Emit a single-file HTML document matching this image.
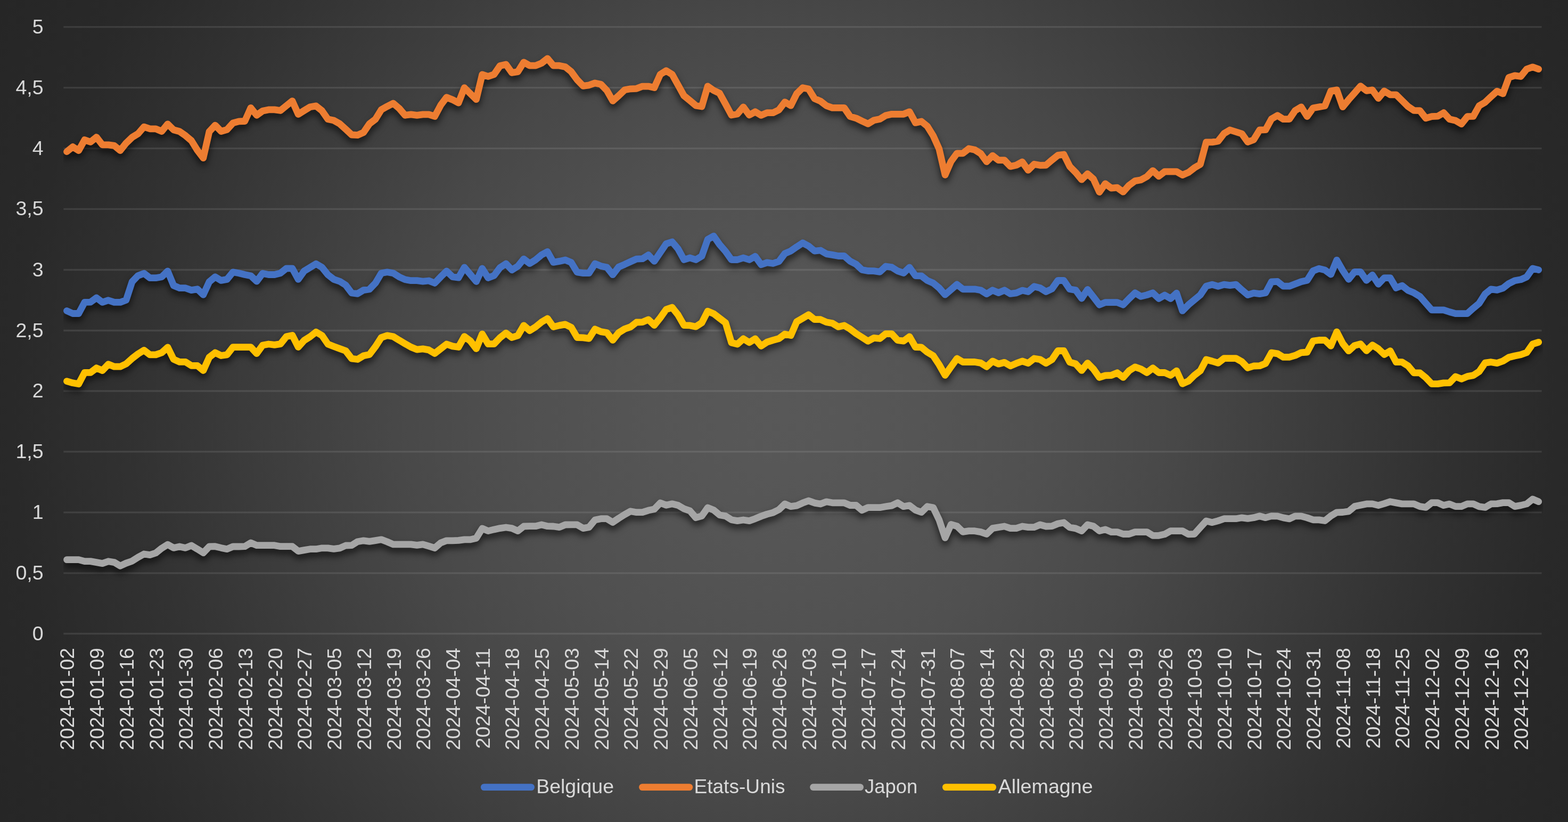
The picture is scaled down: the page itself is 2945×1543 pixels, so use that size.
<!DOCTYPE html>
<html lang="fr"><head><meta charset="utf-8"><title>Taux 10 ans 2024</title>
<style>
html,body{margin:0;padding:0;background:#262626;}
body{width:2945px;height:1543px;overflow:hidden;}
#chart{position:relative;width:2945px;height:1543px;background:radial-gradient(circle 1662px at 50% 50%,rgb(88,88,88) 0px,rgb(87,87,87) 120px,rgb(85,85,85) 252px,rgb(80,80,80) 492px,rgb(72,72,72) 732px,rgb(61,61,61) 972px,rgb(50,50,50) 1212px,rgb(41,41,41) 1452px,rgb(38,38,38) 1662px);}
svg{position:absolute;left:0;top:0;display:block;}
text{font-family:"Liberation Sans",sans-serif;fill:#D9D9D9;}
.yl{font-size:37.5px;text-anchor:end;}
.xl{font-size:37.6px;text-anchor:end;}
.lg{font-size:36px;}
.grid line{stroke:#F2F2F2;stroke-opacity:.10;stroke-width:3.3;}
.ser polyline{fill:none;stroke-width:12.8;stroke-linecap:round;stroke-linejoin:round;}
.leg line{stroke-width:12.9;stroke-linecap:round;}
</style></head><body>
<div id="chart">
<svg width="2945" height="1543" viewBox="0 0 2945 1543">
<defs>
<filter id="sh" filterUnits="userSpaceOnUse" x="0" y="0" width="2945" height="1543" color-interpolation-filters="sRGB">
<feGaussianBlur in="SourceAlpha" stdDeviation="6.5"/>
<feOffset dx="0" dy="8" result="b"/>
<feFlood flood-color="#000" flood-opacity="0.63"/>
<feComposite in2="b" operator="in"/>
</filter>
<clipPath id="cp"><rect x="119.1" y="0" width="2778.8" height="1209.4"/></clipPath>
</defs>
<g class="grid">
<line x1="119.3" x2="2895.6" y1="1189.5" y2="1189.5"/>
<line x1="119.3" x2="2895.6" y1="1075.9" y2="1075.9"/>
<line x1="119.3" x2="2895.6" y1="961.9" y2="961.9"/>
<line x1="119.3" x2="2895.6" y1="847.9" y2="847.9"/>
<line x1="119.3" x2="2895.6" y1="734.0" y2="734.0"/>
<line x1="119.3" x2="2895.6" y1="620.5" y2="620.5"/>
<line x1="119.3" x2="2895.6" y1="506.5" y2="506.5"/>
<line x1="119.3" x2="2895.6" y1="392.3" y2="392.3"/>
<line x1="119.3" x2="2895.6" y1="278.6" y2="278.6"/>
<line x1="119.3" x2="2895.6" y1="164.7" y2="164.7"/>
<line x1="119.3" x2="2895.6" y1="50.6" y2="50.6"/>
</g>
<g class="ylabels">
<text class="yl" x="81.6" y="1201.5">0</text>
<text class="yl" x="81.6" y="1087.9">0,5</text>
<text class="yl" x="81.6" y="973.9">1</text>
<text class="yl" x="81.6" y="859.9">1,5</text>
<text class="yl" x="81.6" y="746.0">2</text>
<text class="yl" x="81.6" y="632.5">2,5</text>
<text class="yl" x="81.6" y="518.5">3</text>
<text class="yl" x="81.6" y="404.3">3,5</text>
<text class="yl" x="81.6" y="290.6">4</text>
<text class="yl" x="81.6" y="176.7">4,5</text>
<text class="yl" x="81.6" y="62.6">5</text>
</g>
<g class="xlabels">
<text class="xl" transform="translate(139.4,1216.0) rotate(-90)">2024-01-02</text>
<text class="xl" transform="translate(195.2,1216.0) rotate(-90)">2024-01-09</text>
<text class="xl" transform="translate(250.9,1216.0) rotate(-90)">2024-01-16</text>
<text class="xl" transform="translate(306.6,1216.0) rotate(-90)">2024-01-23</text>
<text class="xl" transform="translate(362.4,1216.0) rotate(-90)">2024-01-30</text>
<text class="xl" transform="translate(418.1,1216.0) rotate(-90)">2024-02-06</text>
<text class="xl" transform="translate(473.8,1216.0) rotate(-90)">2024-02-13</text>
<text class="xl" transform="translate(529.6,1216.0) rotate(-90)">2024-02-20</text>
<text class="xl" transform="translate(585.3,1216.0) rotate(-90)">2024-02-27</text>
<text class="xl" transform="translate(641.0,1216.0) rotate(-90)">2024-03-05</text>
<text class="xl" transform="translate(696.8,1216.0) rotate(-90)">2024-03-12</text>
<text class="xl" transform="translate(752.5,1216.0) rotate(-90)">2024-03-19</text>
<text class="xl" transform="translate(808.2,1216.0) rotate(-90)">2024-03-26</text>
<text class="xl" transform="translate(864.0,1216.0) rotate(-90)">2024-04-04</text>
<text class="xl" transform="translate(919.7,1216.0) rotate(-90)">2024-04-11</text>
<text class="xl" transform="translate(975.4,1216.0) rotate(-90)">2024-04-18</text>
<text class="xl" transform="translate(1031.1,1216.0) rotate(-90)">2024-04-25</text>
<text class="xl" transform="translate(1086.9,1216.0) rotate(-90)">2024-05-03</text>
<text class="xl" transform="translate(1142.6,1216.0) rotate(-90)">2024-05-14</text>
<text class="xl" transform="translate(1198.3,1216.0) rotate(-90)">2024-05-22</text>
<text class="xl" transform="translate(1254.1,1216.0) rotate(-90)">2024-05-29</text>
<text class="xl" transform="translate(1309.8,1216.0) rotate(-90)">2024-06-05</text>
<text class="xl" transform="translate(1365.5,1216.0) rotate(-90)">2024-06-12</text>
<text class="xl" transform="translate(1421.3,1216.0) rotate(-90)">2024-06-19</text>
<text class="xl" transform="translate(1477.0,1216.0) rotate(-90)">2024-06-26</text>
<text class="xl" transform="translate(1532.7,1216.0) rotate(-90)">2024-07-03</text>
<text class="xl" transform="translate(1588.5,1216.0) rotate(-90)">2024-07-10</text>
<text class="xl" transform="translate(1644.2,1216.0) rotate(-90)">2024-07-17</text>
<text class="xl" transform="translate(1699.9,1216.0) rotate(-90)">2024-07-24</text>
<text class="xl" transform="translate(1755.6,1216.0) rotate(-90)">2024-07-31</text>
<text class="xl" transform="translate(1811.4,1216.0) rotate(-90)">2024-08-07</text>
<text class="xl" transform="translate(1867.1,1216.0) rotate(-90)">2024-08-14</text>
<text class="xl" transform="translate(1922.8,1216.0) rotate(-90)">2024-08-22</text>
<text class="xl" transform="translate(1978.6,1216.0) rotate(-90)">2024-08-29</text>
<text class="xl" transform="translate(2034.3,1216.0) rotate(-90)">2024-09-05</text>
<text class="xl" transform="translate(2090.0,1216.0) rotate(-90)">2024-09-12</text>
<text class="xl" transform="translate(2145.8,1216.0) rotate(-90)">2024-09-19</text>
<text class="xl" transform="translate(2201.5,1216.0) rotate(-90)">2024-09-26</text>
<text class="xl" transform="translate(2257.2,1216.0) rotate(-90)">2024-10-03</text>
<text class="xl" transform="translate(2313.0,1216.0) rotate(-90)">2024-10-10</text>
<text class="xl" transform="translate(2368.7,1216.0) rotate(-90)">2024-10-17</text>
<text class="xl" transform="translate(2424.4,1216.0) rotate(-90)">2024-10-24</text>
<text class="xl" transform="translate(2480.2,1216.0) rotate(-90)">2024-10-31</text>
<text class="xl" transform="translate(2535.9,1216.0) rotate(-90)">2024-11-08</text>
<text class="xl" transform="translate(2591.6,1216.0) rotate(-90)">2024-11-18</text>
<text class="xl" transform="translate(2647.3,1216.0) rotate(-90)">2024-11-25</text>
<text class="xl" transform="translate(2703.1,1216.0) rotate(-90)">2024-12-02</text>
<text class="xl" transform="translate(2758.8,1216.0) rotate(-90)">2024-12-09</text>
<text class="xl" transform="translate(2814.5,1216.0) rotate(-90)">2024-12-16</text>
<text class="xl" transform="translate(2870.3,1216.0) rotate(-90)">2024-12-23</text>
</g>
<g class="ser">
<g clip-path="url(#cp)"><polyline filter="url(#sh)" stroke="#000" points="125.5,583.5 136.6,588.5 147.7,588.5 158.9,567.4 170.0,567.1 181.2,559.0 192.3,567.4 203.5,563.7 214.6,567.4 225.8,567.4 236.9,563.2 248.1,529.0 259.2,517.4 270.4,513.2 281.5,521.7 292.6,521.7 303.8,519.7 314.9,508.9 326.1,536.0 337.2,540.7 348.4,540.7 359.5,544.6 370.7,542.7 381.8,553.4 393.0,529.0 404.1,519.8 415.3,526.4 426.4,524.4 437.5,510.8 448.7,512.7 459.8,515.5 471.0,517.7 482.1,528.2 493.3,513.2 504.4,515.5 515.6,515.5 526.7,512.7 537.9,503.8 549.0,503.8 560.2,524.4 571.3,508.8 582.4,502.1 593.6,495.3 604.7,501.8 615.9,515.8 627.0,524.4 638.2,528.2 649.3,535.2 660.5,550.0 671.6,551.3 682.8,544.6 693.9,543.0 705.1,531.4 716.2,512.7 727.3,510.8 738.5,512.7 749.6,519.7 760.8,524.8 771.9,526.7 783.1,526.7 794.2,528.2 805.4,527.0 816.5,531.4 827.7,519.7 838.8,508.9 850.0,519.7 861.1,521.2 872.2,501.9 883.4,515.2 894.5,528.5 905.7,504.0 916.8,521.5 928.0,517.3 939.1,502.3 950.3,495.0 961.4,506.7 972.6,499.7 983.7,486.1 994.9,494.6 1006.0,487.7 1017.1,478.4 1028.3,472.5 1039.4,492.4 1050.6,490.4 1061.7,488.0 1072.9,492.7 1084.0,511.0 1095.2,512.6 1106.3,512.6 1117.5,495.0 1128.6,499.4 1139.8,501.7 1150.9,515.7 1162.0,501.2 1173.2,496.3 1184.3,491.1 1195.5,486.1 1206.6,485.7 1217.8,478.7 1228.9,490.4 1240.1,474.0 1251.2,457.7 1262.4,454.0 1273.5,467.2 1284.7,487.5 1295.8,484.0 1306.9,487.5 1318.1,480.8 1329.2,449.3 1340.4,443.1 1351.5,459.0 1362.7,471.9 1373.8,487.5 1385.0,487.5 1396.1,484.0 1407.3,487.5 1418.4,481.2 1429.6,496.8 1440.7,492.9 1451.8,494.5 1463.0,490.6 1474.1,475.8 1485.3,471.1 1496.4,463.3 1507.6,456.0 1518.7,461.8 1529.9,471.1 1541.0,470.0 1552.2,476.6 1563.3,478.4 1574.5,480.5 1585.6,480.5 1596.7,490.3 1607.9,496.0 1619.0,506.4 1630.2,508.5 1641.3,508.6 1652.5,510.4 1663.6,500.0 1674.8,501.6 1685.9,508.6 1697.1,512.5 1708.2,501.9 1719.4,517.6 1730.5,517.9 1741.6,526.5 1752.8,531.4 1763.9,540.5 1775.1,553.2 1786.2,543.6 1797.4,533.9 1808.5,542.8 1819.7,542.8 1830.8,542.8 1842.0,544.8 1853.1,551.7 1864.3,544.8 1875.4,549.5 1886.5,544.8 1897.7,551.4 1908.8,549.8 1920.0,545.1 1931.1,547.5 1942.3,537.8 1953.4,540.5 1964.6,547.5 1975.7,542.3 1986.9,526.5 1998.0,526.5 2009.2,542.8 2020.3,544.6 2031.5,560.1 2042.6,543.5 2053.7,557.5 2064.9,572.2 2076.0,567.6 2087.2,567.6 2098.3,567.6 2109.5,572.2 2120.6,560.6 2131.8,549.8 2142.9,556.4 2154.1,553.6 2165.2,549.8 2176.4,560.4 2187.5,554.0 2198.6,560.4 2209.8,550.2 2220.9,583.4 2232.1,572.2 2243.2,562.9 2254.4,553.6 2265.5,537.2 2276.7,534.1 2287.8,537.4 2299.0,534.1 2310.1,535.7 2321.3,534.1 2332.4,544.2 2343.5,553.6 2354.7,550.2 2365.8,551.6 2377.0,549.7 2388.1,529.0 2399.3,528.4 2410.4,537.2 2421.6,537.2 2432.7,533.0 2443.9,528.7 2455.0,526.3 2466.2,508.5 2477.3,504.1 2488.4,506.9 2499.6,515.0 2510.7,488.2 2521.9,507.7 2533.0,524.3 2544.2,510.3 2555.3,510.3 2566.5,526.3 2577.6,516.2 2588.8,533.3 2599.9,521.7 2611.1,521.7 2622.2,540.4 2633.3,536.1 2644.5,545.0 2655.6,549.7 2666.8,556.4 2677.9,569.1 2689.1,581.9 2700.2,581.9 2711.4,581.9 2722.5,585.5 2733.7,588.6 2744.8,588.6 2756.0,588.6 2767.1,578.6 2778.2,569.3 2789.4,551.7 2800.5,542.8 2811.7,544.4 2822.8,540.8 2834.0,532.2 2845.1,526.8 2856.3,524.8 2867.4,519.8 2878.6,503.9 2889.7,506.6"/></g>
<polyline stroke="#4472C4" points="125.5,583.5 136.6,588.5 147.7,588.5 158.9,567.4 170.0,567.1 181.2,559.0 192.3,567.4 203.5,563.7 214.6,567.4 225.8,567.4 236.9,563.2 248.1,529.0 259.2,517.4 270.4,513.2 281.5,521.7 292.6,521.7 303.8,519.7 314.9,508.9 326.1,536.0 337.2,540.7 348.4,540.7 359.5,544.6 370.7,542.7 381.8,553.4 393.0,529.0 404.1,519.8 415.3,526.4 426.4,524.4 437.5,510.8 448.7,512.7 459.8,515.5 471.0,517.7 482.1,528.2 493.3,513.2 504.4,515.5 515.6,515.5 526.7,512.7 537.9,503.8 549.0,503.8 560.2,524.4 571.3,508.8 582.4,502.1 593.6,495.3 604.7,501.8 615.9,515.8 627.0,524.4 638.2,528.2 649.3,535.2 660.5,550.0 671.6,551.3 682.8,544.6 693.9,543.0 705.1,531.4 716.2,512.7 727.3,510.8 738.5,512.7 749.6,519.7 760.8,524.8 771.9,526.7 783.1,526.7 794.2,528.2 805.4,527.0 816.5,531.4 827.7,519.7 838.8,508.9 850.0,519.7 861.1,521.2 872.2,501.9 883.4,515.2 894.5,528.5 905.7,504.0 916.8,521.5 928.0,517.3 939.1,502.3 950.3,495.0 961.4,506.7 972.6,499.7 983.7,486.1 994.9,494.6 1006.0,487.7 1017.1,478.4 1028.3,472.5 1039.4,492.4 1050.6,490.4 1061.7,488.0 1072.9,492.7 1084.0,511.0 1095.2,512.6 1106.3,512.6 1117.5,495.0 1128.6,499.4 1139.8,501.7 1150.9,515.7 1162.0,501.2 1173.2,496.3 1184.3,491.1 1195.5,486.1 1206.6,485.7 1217.8,478.7 1228.9,490.4 1240.1,474.0 1251.2,457.7 1262.4,454.0 1273.5,467.2 1284.7,487.5 1295.8,484.0 1306.9,487.5 1318.1,480.8 1329.2,449.3 1340.4,443.1 1351.5,459.0 1362.7,471.9 1373.8,487.5 1385.0,487.5 1396.1,484.0 1407.3,487.5 1418.4,481.2 1429.6,496.8 1440.7,492.9 1451.8,494.5 1463.0,490.6 1474.1,475.8 1485.3,471.1 1496.4,463.3 1507.6,456.0 1518.7,461.8 1529.9,471.1 1541.0,470.0 1552.2,476.6 1563.3,478.4 1574.5,480.5 1585.6,480.5 1596.7,490.3 1607.9,496.0 1619.0,506.4 1630.2,508.5 1641.3,508.6 1652.5,510.4 1663.6,500.0 1674.8,501.6 1685.9,508.6 1697.1,512.5 1708.2,501.9 1719.4,517.6 1730.5,517.9 1741.6,526.5 1752.8,531.4 1763.9,540.5 1775.1,553.2 1786.2,543.6 1797.4,533.9 1808.5,542.8 1819.7,542.8 1830.8,542.8 1842.0,544.8 1853.1,551.7 1864.3,544.8 1875.4,549.5 1886.5,544.8 1897.7,551.4 1908.8,549.8 1920.0,545.1 1931.1,547.5 1942.3,537.8 1953.4,540.5 1964.6,547.5 1975.7,542.3 1986.9,526.5 1998.0,526.5 2009.2,542.8 2020.3,544.6 2031.5,560.1 2042.6,543.5 2053.7,557.5 2064.9,572.2 2076.0,567.6 2087.2,567.6 2098.3,567.6 2109.5,572.2 2120.6,560.6 2131.8,549.8 2142.9,556.4 2154.1,553.6 2165.2,549.8 2176.4,560.4 2187.5,554.0 2198.6,560.4 2209.8,550.2 2220.9,583.4 2232.1,572.2 2243.2,562.9 2254.4,553.6 2265.5,537.2 2276.7,534.1 2287.8,537.4 2299.0,534.1 2310.1,535.7 2321.3,534.1 2332.4,544.2 2343.5,553.6 2354.7,550.2 2365.8,551.6 2377.0,549.7 2388.1,529.0 2399.3,528.4 2410.4,537.2 2421.6,537.2 2432.7,533.0 2443.9,528.7 2455.0,526.3 2466.2,508.5 2477.3,504.1 2488.4,506.9 2499.6,515.0 2510.7,488.2 2521.9,507.7 2533.0,524.3 2544.2,510.3 2555.3,510.3 2566.5,526.3 2577.6,516.2 2588.8,533.3 2599.9,521.7 2611.1,521.7 2622.2,540.4 2633.3,536.1 2644.5,545.0 2655.6,549.7 2666.8,556.4 2677.9,569.1 2689.1,581.9 2700.2,581.9 2711.4,581.9 2722.5,585.5 2733.7,588.6 2744.8,588.6 2756.0,588.6 2767.1,578.6 2778.2,569.3 2789.4,551.7 2800.5,542.8 2811.7,544.4 2822.8,540.8 2834.0,532.2 2845.1,526.8 2856.3,524.8 2867.4,519.8 2878.6,503.9 2889.7,506.6"/>
<g clip-path="url(#cp)"><polyline filter="url(#sh)" stroke="#000" points="125.5,284.6 136.6,275.6 147.7,282.6 158.9,262.6 170.0,266.5 181.2,257.5 192.3,271.8 203.5,271.8 214.6,273.4 225.8,282.6 236.9,268.6 248.1,257.8 259.2,251.1 270.4,238.1 281.5,241.8 292.6,241.8 303.8,246.5 314.9,232.8 326.1,243.8 337.2,246.8 348.4,254.6 359.5,264.0 370.7,282.2 381.8,296.7 393.0,247.2 404.1,235.1 415.3,246.5 426.4,243.3 437.5,230.9 448.7,227.8 459.8,227.5 471.0,202.4 482.1,216.3 493.3,208.2 504.4,205.9 515.6,205.9 526.7,207.5 537.9,198.4 549.0,189.6 560.2,214.5 571.3,207.5 582.4,200.8 593.6,198.9 604.7,207.8 615.9,223.8 627.0,226.1 638.2,232.4 649.3,242.5 660.5,253.0 671.6,253.7 682.8,248.7 693.9,232.4 705.1,223.8 716.2,205.9 727.3,199.7 738.5,193.9 749.6,203.3 760.8,216.3 771.9,214.8 783.1,216.3 794.2,214.8 805.4,214.8 816.5,218.4 827.7,197.4 838.8,182.7 850.0,187.2 861.1,193.2 872.2,164.7 883.4,175.7 894.5,186.6 905.7,139.9 916.8,143.5 928.0,139.6 939.1,123.5 950.3,120.9 961.4,136.5 972.6,134.6 983.7,116.9 994.9,123.2 1006.0,123.2 1017.1,118.6 1028.3,109.9 1039.4,123.2 1050.6,123.2 1061.7,125.6 1072.9,134.6 1084.0,149.7 1095.2,161.4 1106.3,159.8 1117.5,155.9 1128.6,158.2 1139.8,169.9 1150.9,189.4 1162.0,179.6 1173.2,168.8 1184.3,166.8 1195.5,166.3 1206.6,162.1 1217.8,162.1 1228.9,164.5 1240.1,139.6 1251.2,132.7 1262.4,139.7 1273.5,159.6 1284.7,179.8 1295.8,188.8 1306.9,198.2 1318.1,200.0 1329.2,161.9 1340.4,169.7 1351.5,175.1 1362.7,195.4 1373.8,216.0 1385.0,214.0 1396.1,200.8 1407.3,216.0 1418.4,209.8 1429.6,216.4 1440.7,211.7 1451.8,211.7 1463.0,206.2 1474.1,191.6 1485.3,198.2 1496.4,175.9 1507.6,164.7 1518.7,167.0 1529.9,185.2 1541.0,189.9 1552.2,198.5 1563.3,202.4 1574.5,202.4 1585.6,202.4 1596.7,218.7 1607.9,221.8 1619.0,227.3 1630.2,232.4 1641.3,225.7 1652.5,223.4 1663.6,216.7 1674.8,214.3 1685.9,214.3 1697.1,214.3 1708.2,209.8 1719.4,230.4 1730.5,227.9 1741.6,236.9 1752.8,254.8 1763.9,279.7 1775.1,328.4 1786.2,303.0 1797.4,287.8 1808.5,287.8 1819.7,278.9 1830.8,281.2 1842.0,288.2 1853.1,303.5 1864.3,292.1 1875.4,300.7 1886.5,300.7 1897.7,312.4 1908.8,310.0 1920.0,304.0 1931.1,319.4 1942.3,308.2 1953.4,310.3 1964.6,310.0 1975.7,300.4 1986.9,291.4 1998.0,290.0 2009.2,312.4 2020.3,323.7 2031.5,337.2 2042.6,326.2 2053.7,336.1 2064.9,360.6 2076.0,344.8 2087.2,353.2 2098.3,352.2 2109.5,360.2 2120.6,347.8 2131.8,339.6 2142.9,337.7 2154.1,331.5 2165.2,320.3 2176.4,330.7 2187.5,322.1 2198.6,322.1 2209.8,322.1 2220.9,328.5 2232.1,323.7 2243.2,315.1 2254.4,308.4 2265.5,266.9 2276.7,266.9 2287.8,265.0 2299.0,250.6 2310.1,244.0 2321.3,247.5 2332.4,251.0 2343.5,266.6 2354.7,262.2 2365.8,244.0 2377.0,243.6 2388.1,223.3 2399.3,216.8 2410.4,223.7 2421.6,223.7 2432.7,207.4 2443.9,200.8 2455.0,218.6 2466.2,202.7 2477.3,200.8 2488.4,198.8 2499.6,170.8 2510.7,168.9 2521.9,200.7 2533.0,187.1 2544.2,174.4 2555.3,161.6 2566.5,170.3 2577.6,168.9 2588.8,184.5 2599.9,170.9 2611.1,177.8 2622.2,177.8 2633.3,188.7 2644.5,199.9 2655.6,207.4 2666.8,207.7 2677.9,221.8 2689.1,218.6 2700.2,218.2 2711.4,211.7 2722.5,223.7 2733.7,226.3 2744.8,232.7 2756.0,218.7 2767.1,218.4 2778.2,198.5 2789.4,191.9 2800.5,181.4 2811.7,171.2 2822.8,175.9 2834.0,145.3 2845.1,141.8 2856.3,143.5 2867.4,129.7 2878.6,125.8 2889.7,129.7"/></g>
<polyline stroke="#ED7D31" points="125.5,284.6 136.6,275.6 147.7,282.6 158.9,262.6 170.0,266.5 181.2,257.5 192.3,271.8 203.5,271.8 214.6,273.4 225.8,282.6 236.9,268.6 248.1,257.8 259.2,251.1 270.4,238.1 281.5,241.8 292.6,241.8 303.8,246.5 314.9,232.8 326.1,243.8 337.2,246.8 348.4,254.6 359.5,264.0 370.7,282.2 381.8,296.7 393.0,247.2 404.1,235.1 415.3,246.5 426.4,243.3 437.5,230.9 448.7,227.8 459.8,227.5 471.0,202.4 482.1,216.3 493.3,208.2 504.4,205.9 515.6,205.9 526.7,207.5 537.9,198.4 549.0,189.6 560.2,214.5 571.3,207.5 582.4,200.8 593.6,198.9 604.7,207.8 615.9,223.8 627.0,226.1 638.2,232.4 649.3,242.5 660.5,253.0 671.6,253.7 682.8,248.7 693.9,232.4 705.1,223.8 716.2,205.9 727.3,199.7 738.5,193.9 749.6,203.3 760.8,216.3 771.9,214.8 783.1,216.3 794.2,214.8 805.4,214.8 816.5,218.4 827.7,197.4 838.8,182.7 850.0,187.2 861.1,193.2 872.2,164.7 883.4,175.7 894.5,186.6 905.7,139.9 916.8,143.5 928.0,139.6 939.1,123.5 950.3,120.9 961.4,136.5 972.6,134.6 983.7,116.9 994.9,123.2 1006.0,123.2 1017.1,118.6 1028.3,109.9 1039.4,123.2 1050.6,123.2 1061.7,125.6 1072.9,134.6 1084.0,149.7 1095.2,161.4 1106.3,159.8 1117.5,155.9 1128.6,158.2 1139.8,169.9 1150.9,189.4 1162.0,179.6 1173.2,168.8 1184.3,166.8 1195.5,166.3 1206.6,162.1 1217.8,162.1 1228.9,164.5 1240.1,139.6 1251.2,132.7 1262.4,139.7 1273.5,159.6 1284.7,179.8 1295.8,188.8 1306.9,198.2 1318.1,200.0 1329.2,161.9 1340.4,169.7 1351.5,175.1 1362.7,195.4 1373.8,216.0 1385.0,214.0 1396.1,200.8 1407.3,216.0 1418.4,209.8 1429.6,216.4 1440.7,211.7 1451.8,211.7 1463.0,206.2 1474.1,191.6 1485.3,198.2 1496.4,175.9 1507.6,164.7 1518.7,167.0 1529.9,185.2 1541.0,189.9 1552.2,198.5 1563.3,202.4 1574.5,202.4 1585.6,202.4 1596.7,218.7 1607.9,221.8 1619.0,227.3 1630.2,232.4 1641.3,225.7 1652.5,223.4 1663.6,216.7 1674.8,214.3 1685.9,214.3 1697.1,214.3 1708.2,209.8 1719.4,230.4 1730.5,227.9 1741.6,236.9 1752.8,254.8 1763.9,279.7 1775.1,328.4 1786.2,303.0 1797.4,287.8 1808.5,287.8 1819.7,278.9 1830.8,281.2 1842.0,288.2 1853.1,303.5 1864.3,292.1 1875.4,300.7 1886.5,300.7 1897.7,312.4 1908.8,310.0 1920.0,304.0 1931.1,319.4 1942.3,308.2 1953.4,310.3 1964.6,310.0 1975.7,300.4 1986.9,291.4 1998.0,290.0 2009.2,312.4 2020.3,323.7 2031.5,337.2 2042.6,326.2 2053.7,336.1 2064.9,360.6 2076.0,344.8 2087.2,353.2 2098.3,352.2 2109.5,360.2 2120.6,347.8 2131.8,339.6 2142.9,337.7 2154.1,331.5 2165.2,320.3 2176.4,330.7 2187.5,322.1 2198.6,322.1 2209.8,322.1 2220.9,328.5 2232.1,323.7 2243.2,315.1 2254.4,308.4 2265.5,266.9 2276.7,266.9 2287.8,265.0 2299.0,250.6 2310.1,244.0 2321.3,247.5 2332.4,251.0 2343.5,266.6 2354.7,262.2 2365.8,244.0 2377.0,243.6 2388.1,223.3 2399.3,216.8 2410.4,223.7 2421.6,223.7 2432.7,207.4 2443.9,200.8 2455.0,218.6 2466.2,202.7 2477.3,200.8 2488.4,198.8 2499.6,170.8 2510.7,168.9 2521.9,200.7 2533.0,187.1 2544.2,174.4 2555.3,161.6 2566.5,170.3 2577.6,168.9 2588.8,184.5 2599.9,170.9 2611.1,177.8 2622.2,177.8 2633.3,188.7 2644.5,199.9 2655.6,207.4 2666.8,207.7 2677.9,221.8 2689.1,218.6 2700.2,218.2 2711.4,211.7 2722.5,223.7 2733.7,226.3 2744.8,232.7 2756.0,218.7 2767.1,218.4 2778.2,198.5 2789.4,191.9 2800.5,181.4 2811.7,171.2 2822.8,175.9 2834.0,145.3 2845.1,141.8 2856.3,143.5 2867.4,129.7 2878.6,125.8 2889.7,129.7"/>
<g clip-path="url(#cp)"><polyline filter="url(#sh)" stroke="#000" points="125.5,1050.6 136.6,1050.6 147.7,1050.6 158.9,1053.6 170.0,1053.6 181.2,1055.6 192.3,1057.6 203.5,1053.7 214.6,1055.6 225.8,1062.3 236.9,1057.1 248.1,1053.2 259.2,1046.2 270.4,1040.0 281.5,1041.6 292.6,1038.0 303.8,1029.1 314.9,1022.1 326.1,1028.4 337.2,1026.0 348.4,1028.4 359.5,1024.0 370.7,1030.7 381.8,1037.7 393.0,1026.0 404.1,1025.7 415.3,1028.4 426.4,1030.7 437.5,1026.0 448.7,1026.0 459.8,1025.7 471.0,1019.0 482.1,1023.7 493.3,1023.7 504.4,1023.7 515.6,1023.7 526.7,1025.7 537.9,1025.7 549.0,1025.7 560.2,1034.6 571.3,1032.6 582.4,1030.7 593.6,1030.7 604.7,1028.8 615.9,1028.8 627.0,1030.4 638.2,1028.8 649.3,1024.0 660.5,1023.7 671.6,1016.7 682.8,1014.8 693.9,1016.4 705.1,1014.7 716.2,1012.8 727.3,1017.0 738.5,1021.8 749.6,1021.8 760.8,1021.8 771.9,1021.8 783.1,1023.4 794.2,1021.8 805.4,1025.2 816.5,1028.7 827.7,1019.0 838.8,1014.8 850.0,1014.8 861.1,1014.4 872.2,1012.8 883.4,1012.9 894.5,1010.2 905.7,992.0 916.8,996.6 928.0,993.9 939.1,991.6 950.3,990.0 961.4,991.6 972.6,996.6 983.7,988.0 994.9,987.7 1006.0,987.7 1017.1,985.0 1028.3,987.7 1039.4,988.0 1050.6,989.6 1061.7,985.0 1072.9,984.9 1084.0,984.9 1095.2,991.6 1106.3,989.6 1117.5,976.0 1128.6,973.7 1139.8,973.7 1150.9,980.4 1162.0,972.9 1173.2,965.9 1184.3,959.7 1195.5,961.7 1206.6,961.7 1217.8,958.1 1228.9,955.8 1240.1,944.1 1251.2,948.3 1262.4,945.8 1273.5,948.5 1284.7,955.0 1295.8,958.9 1306.9,971.7 1318.1,968.6 1329.2,953.0 1340.4,957.4 1351.5,966.7 1362.7,968.6 1373.8,975.7 1385.0,977.6 1396.1,976.0 1407.3,977.6 1418.4,973.7 1429.6,969.0 1440.7,965.1 1451.8,962.3 1463.0,956.6 1474.1,946.0 1485.3,950.7 1496.4,949.1 1507.6,944.1 1518.7,939.9 1529.9,944.1 1541.0,946.0 1552.2,941.8 1563.3,943.8 1574.5,943.8 1585.6,943.8 1596.7,948.5 1607.9,948.5 1619.0,957.7 1630.2,952.7 1641.3,952.7 1652.5,952.7 1663.6,950.8 1674.8,949.1 1685.9,943.8 1697.1,950.7 1708.2,948.8 1719.4,957.4 1730.5,961.6 1741.6,950.7 1752.8,952.7 1763.9,976.0 1775.1,1009.5 1786.2,984.5 1797.4,987.7 1808.5,998.3 1819.7,996.7 1830.8,996.7 1842.0,998.6 1853.1,1002.5 1864.3,991.6 1875.4,989.7 1886.5,988.0 1897.7,991.6 1908.8,991.6 1920.0,988.0 1931.1,989.7 1942.3,989.7 1953.4,985.0 1964.6,988.0 1975.7,987.7 1986.9,983.0 1998.0,981.0 2009.2,990.0 2020.3,991.9 2031.5,996.6 2042.6,985.0 2053.7,987.7 2064.9,996.6 2076.0,993.9 2087.2,998.6 2098.3,998.6 2109.5,1002.5 2120.6,1002.5 2131.8,998.6 2142.9,998.6 2154.1,998.6 2165.2,1005.3 2176.4,1005.3 2187.5,1002.8 2198.6,996.7 2209.8,996.7 2220.9,996.7 2232.1,1002.8 2243.2,1002.5 2254.4,990.0 2265.5,977.9 2276.7,980.7 2287.8,977.6 2299.0,973.7 2310.1,973.7 2321.3,973.7 2332.4,971.8 2343.5,973.4 2354.7,971.7 2365.8,968.7 2377.0,971.7 2388.1,968.6 2399.3,968.8 2410.4,971.9 2421.6,973.9 2432.7,968.8 2443.9,968.8 2455.0,971.9 2466.2,975.8 2477.3,975.8 2488.4,977.5 2499.6,968.5 2510.7,961.8 2521.9,961.5 2533.0,959.9 2544.2,950.6 2555.3,948.2 2566.5,945.9 2577.6,945.9 2588.8,948.6 2599.9,945.4 2611.1,941.7 2622.2,943.9 2633.3,945.9 2644.5,945.9 2655.6,945.9 2666.8,950.6 2677.9,952.4 2689.1,943.6 2700.2,943.6 2711.4,948.6 2722.5,946.1 2733.7,950.6 2744.8,950.6 2756.0,945.9 2767.1,945.9 2778.2,950.9 2789.4,952.4 2800.5,945.9 2811.7,945.6 2822.8,943.6 2834.0,943.6 2845.1,950.6 2856.3,948.6 2867.4,945.9 2878.6,936.9 2889.7,941.7"/></g>
<polyline stroke="#A5A5A5" points="125.5,1050.6 136.6,1050.6 147.7,1050.6 158.9,1053.6 170.0,1053.6 181.2,1055.6 192.3,1057.6 203.5,1053.7 214.6,1055.6 225.8,1062.3 236.9,1057.1 248.1,1053.2 259.2,1046.2 270.4,1040.0 281.5,1041.6 292.6,1038.0 303.8,1029.1 314.9,1022.1 326.1,1028.4 337.2,1026.0 348.4,1028.4 359.5,1024.0 370.7,1030.7 381.8,1037.7 393.0,1026.0 404.1,1025.7 415.3,1028.4 426.4,1030.7 437.5,1026.0 448.7,1026.0 459.8,1025.7 471.0,1019.0 482.1,1023.7 493.3,1023.7 504.4,1023.7 515.6,1023.7 526.7,1025.7 537.9,1025.7 549.0,1025.7 560.2,1034.6 571.3,1032.6 582.4,1030.7 593.6,1030.7 604.7,1028.8 615.9,1028.8 627.0,1030.4 638.2,1028.8 649.3,1024.0 660.5,1023.7 671.6,1016.7 682.8,1014.8 693.9,1016.4 705.1,1014.7 716.2,1012.8 727.3,1017.0 738.5,1021.8 749.6,1021.8 760.8,1021.8 771.9,1021.8 783.1,1023.4 794.2,1021.8 805.4,1025.2 816.5,1028.7 827.7,1019.0 838.8,1014.8 850.0,1014.8 861.1,1014.4 872.2,1012.8 883.4,1012.9 894.5,1010.2 905.7,992.0 916.8,996.6 928.0,993.9 939.1,991.6 950.3,990.0 961.4,991.6 972.6,996.6 983.7,988.0 994.9,987.7 1006.0,987.7 1017.1,985.0 1028.3,987.7 1039.4,988.0 1050.6,989.6 1061.7,985.0 1072.9,984.9 1084.0,984.9 1095.2,991.6 1106.3,989.6 1117.5,976.0 1128.6,973.7 1139.8,973.7 1150.9,980.4 1162.0,972.9 1173.2,965.9 1184.3,959.7 1195.5,961.7 1206.6,961.7 1217.8,958.1 1228.9,955.8 1240.1,944.1 1251.2,948.3 1262.4,945.8 1273.5,948.5 1284.7,955.0 1295.8,958.9 1306.9,971.7 1318.1,968.6 1329.2,953.0 1340.4,957.4 1351.5,966.7 1362.7,968.6 1373.8,975.7 1385.0,977.6 1396.1,976.0 1407.3,977.6 1418.4,973.7 1429.6,969.0 1440.7,965.1 1451.8,962.3 1463.0,956.6 1474.1,946.0 1485.3,950.7 1496.4,949.1 1507.6,944.1 1518.7,939.9 1529.9,944.1 1541.0,946.0 1552.2,941.8 1563.3,943.8 1574.5,943.8 1585.6,943.8 1596.7,948.5 1607.9,948.5 1619.0,957.7 1630.2,952.7 1641.3,952.7 1652.5,952.7 1663.6,950.8 1674.8,949.1 1685.9,943.8 1697.1,950.7 1708.2,948.8 1719.4,957.4 1730.5,961.6 1741.6,950.7 1752.8,952.7 1763.9,976.0 1775.1,1009.5 1786.2,984.5 1797.4,987.7 1808.5,998.3 1819.7,996.7 1830.8,996.7 1842.0,998.6 1853.1,1002.5 1864.3,991.6 1875.4,989.7 1886.5,988.0 1897.7,991.6 1908.8,991.6 1920.0,988.0 1931.1,989.7 1942.3,989.7 1953.4,985.0 1964.6,988.0 1975.7,987.7 1986.9,983.0 1998.0,981.0 2009.2,990.0 2020.3,991.9 2031.5,996.6 2042.6,985.0 2053.7,987.7 2064.9,996.6 2076.0,993.9 2087.2,998.6 2098.3,998.6 2109.5,1002.5 2120.6,1002.5 2131.8,998.6 2142.9,998.6 2154.1,998.6 2165.2,1005.3 2176.4,1005.3 2187.5,1002.8 2198.6,996.7 2209.8,996.7 2220.9,996.7 2232.1,1002.8 2243.2,1002.5 2254.4,990.0 2265.5,977.9 2276.7,980.7 2287.8,977.6 2299.0,973.7 2310.1,973.7 2321.3,973.7 2332.4,971.8 2343.5,973.4 2354.7,971.7 2365.8,968.7 2377.0,971.7 2388.1,968.6 2399.3,968.8 2410.4,971.9 2421.6,973.9 2432.7,968.8 2443.9,968.8 2455.0,971.9 2466.2,975.8 2477.3,975.8 2488.4,977.5 2499.6,968.5 2510.7,961.8 2521.9,961.5 2533.0,959.9 2544.2,950.6 2555.3,948.2 2566.5,945.9 2577.6,945.9 2588.8,948.6 2599.9,945.4 2611.1,941.7 2622.2,943.9 2633.3,945.9 2644.5,945.9 2655.6,945.9 2666.8,950.6 2677.9,952.4 2689.1,943.6 2700.2,943.6 2711.4,948.6 2722.5,946.1 2733.7,950.6 2744.8,950.6 2756.0,945.9 2767.1,945.9 2778.2,950.9 2789.4,952.4 2800.5,945.9 2811.7,945.6 2822.8,943.6 2834.0,943.6 2845.1,950.6 2856.3,948.6 2867.4,945.9 2878.6,936.9 2889.7,941.7"/>
<g clip-path="url(#cp)"><polyline filter="url(#sh)" stroke="#000" points="125.5,715.7 136.6,718.8 147.7,720.8 158.9,699.4 170.0,699.4 181.2,690.8 192.3,695.5 203.5,683.8 214.6,688.2 225.8,688.2 236.9,683.0 248.1,672.9 259.2,664.4 270.4,657.4 281.5,665.9 292.6,665.9 303.8,662.0 314.9,651.9 326.1,674.5 337.2,679.4 348.4,679.4 359.5,686.4 370.7,686.4 381.8,695.5 393.0,670.6 404.1,662.0 415.3,667.5 426.4,665.9 437.5,651.6 448.7,651.6 459.8,651.6 471.0,651.6 482.1,663.6 493.3,648.0 504.4,646.0 515.6,647.3 526.7,645.7 537.9,631.7 549.0,629.4 560.2,651.5 571.3,639.0 582.4,632.0 593.6,623.2 604.7,629.7 615.9,646.0 627.0,650.4 638.2,654.6 649.3,658.5 660.5,673.2 671.6,674.5 682.8,667.8 693.9,665.5 705.1,650.7 716.2,633.6 727.3,629.8 738.5,631.7 749.6,638.6 760.8,645.2 771.9,651.5 783.1,656.1 794.2,654.9 805.4,656.9 816.5,663.4 827.7,654.6 838.8,646.0 850.0,649.9 861.1,651.5 872.2,631.7 883.4,640.0 894.5,654.5 905.7,627.0 916.8,645.6 928.0,645.5 939.1,633.8 950.3,625.2 961.4,633.5 972.6,629.9 983.7,610.9 994.9,620.6 1006.0,613.6 1017.1,604.6 1028.3,598.0 1039.4,613.6 1050.6,610.9 1061.7,608.9 1072.9,614.4 1084.0,633.5 1095.2,633.8 1106.3,635.4 1117.5,617.9 1128.6,622.6 1139.8,624.5 1150.9,638.5 1162.0,624.5 1173.2,617.5 1184.3,613.6 1195.5,605.0 1206.6,604.6 1217.8,599.9 1228.9,610.5 1240.1,596.5 1251.2,580.9 1262.4,577.1 1273.5,591.1 1284.7,610.6 1295.8,610.9 1306.9,613.2 1318.1,605.9 1329.2,584.1 1340.4,588.8 1351.5,597.4 1362.7,605.9 1373.8,643.2 1385.0,646.0 1396.1,635.9 1407.3,642.9 1418.4,635.9 1429.6,649.5 1440.7,642.2 1451.8,638.6 1463.0,635.5 1474.1,627.2 1485.3,629.6 1496.4,603.9 1507.6,597.4 1518.7,590.8 1529.9,599.7 1541.0,599.7 1552.2,604.8 1563.3,606.7 1574.5,613.4 1585.6,611.0 1596.7,617.6 1607.9,626.1 1619.0,633.1 1630.2,640.4 1641.3,634.4 1652.5,635.5 1663.6,626.6 1674.8,626.6 1685.9,638.6 1697.1,640.1 1708.2,632.0 1719.4,651.5 1730.5,651.8 1741.6,661.1 1752.8,667.7 1763.9,684.5 1775.1,704.4 1786.2,688.4 1797.4,673.0 1808.5,679.5 1819.7,679.5 1830.8,679.5 1842.0,681.4 1853.1,688.4 1864.3,677.9 1875.4,683.2 1886.5,680.3 1897.7,686.8 1908.8,682.1 1920.0,677.9 1931.1,681.7 1942.3,673.0 1953.4,674.8 1964.6,681.8 1975.7,675.1 1986.9,658.5 1998.0,658.5 2009.2,679.8 2020.3,683.0 2031.5,695.4 2042.6,681.6 2053.7,692.8 2064.9,708.4 2076.0,704.9 2087.2,704.5 2098.3,699.8 2109.5,708.4 2120.6,695.9 2131.8,688.9 2142.9,692.8 2154.1,699.5 2165.2,690.9 2176.4,699.5 2187.5,699.5 2198.6,704.5 2209.8,696.1 2220.9,720.3 2232.1,715.4 2243.2,704.5 2254.4,695.9 2265.5,674.9 2276.7,678.0 2287.8,681.4 2299.0,672.6 2310.1,672.6 2321.3,672.6 2332.4,678.8 2343.5,690.5 2354.7,687.0 2365.8,686.7 2377.0,682.2 2388.1,662.1 2399.3,663.8 2410.4,670.4 2421.6,670.4 2432.7,667.2 2443.9,661.8 2455.0,661.0 2466.2,640.0 2477.3,638.5 2488.4,638.5 2499.6,649.3 2510.7,622.9 2521.9,644.7 2533.0,658.7 2544.2,648.6 2555.3,645.6 2566.5,658.4 2577.6,647.8 2588.8,654.8 2599.9,665.4 2611.1,658.7 2622.2,679.7 2633.3,679.7 2644.5,686.7 2655.6,699.9 2666.8,699.9 2677.9,708.9 2689.1,720.6 2700.2,720.6 2711.4,718.9 2722.5,718.6 2733.7,706.9 2744.8,711.3 2756.0,706.6 2767.1,704.6 2778.2,697.3 2789.4,681.2 2800.5,679.7 2811.7,681.6 2822.8,677.8 2834.0,670.8 2845.1,668.0 2856.3,665.7 2867.4,661.8 2878.6,645.8 2889.7,642.3"/></g>
<polyline stroke="#FFC000" points="125.5,715.7 136.6,718.8 147.7,720.8 158.9,699.4 170.0,699.4 181.2,690.8 192.3,695.5 203.5,683.8 214.6,688.2 225.8,688.2 236.9,683.0 248.1,672.9 259.2,664.4 270.4,657.4 281.5,665.9 292.6,665.9 303.8,662.0 314.9,651.9 326.1,674.5 337.2,679.4 348.4,679.4 359.5,686.4 370.7,686.4 381.8,695.5 393.0,670.6 404.1,662.0 415.3,667.5 426.4,665.9 437.5,651.6 448.7,651.6 459.8,651.6 471.0,651.6 482.1,663.6 493.3,648.0 504.4,646.0 515.6,647.3 526.7,645.7 537.9,631.7 549.0,629.4 560.2,651.5 571.3,639.0 582.4,632.0 593.6,623.2 604.7,629.7 615.9,646.0 627.0,650.4 638.2,654.6 649.3,658.5 660.5,673.2 671.6,674.5 682.8,667.8 693.9,665.5 705.1,650.7 716.2,633.6 727.3,629.8 738.5,631.7 749.6,638.6 760.8,645.2 771.9,651.5 783.1,656.1 794.2,654.9 805.4,656.9 816.5,663.4 827.7,654.6 838.8,646.0 850.0,649.9 861.1,651.5 872.2,631.7 883.4,640.0 894.5,654.5 905.7,627.0 916.8,645.6 928.0,645.5 939.1,633.8 950.3,625.2 961.4,633.5 972.6,629.9 983.7,610.9 994.9,620.6 1006.0,613.6 1017.1,604.6 1028.3,598.0 1039.4,613.6 1050.6,610.9 1061.7,608.9 1072.9,614.4 1084.0,633.5 1095.2,633.8 1106.3,635.4 1117.5,617.9 1128.6,622.6 1139.8,624.5 1150.9,638.5 1162.0,624.5 1173.2,617.5 1184.3,613.6 1195.5,605.0 1206.6,604.6 1217.8,599.9 1228.9,610.5 1240.1,596.5 1251.2,580.9 1262.4,577.1 1273.5,591.1 1284.7,610.6 1295.8,610.9 1306.9,613.2 1318.1,605.9 1329.2,584.1 1340.4,588.8 1351.5,597.4 1362.7,605.9 1373.8,643.2 1385.0,646.0 1396.1,635.9 1407.3,642.9 1418.4,635.9 1429.6,649.5 1440.7,642.2 1451.8,638.6 1463.0,635.5 1474.1,627.2 1485.3,629.6 1496.4,603.9 1507.6,597.4 1518.7,590.8 1529.9,599.7 1541.0,599.7 1552.2,604.8 1563.3,606.7 1574.5,613.4 1585.6,611.0 1596.7,617.6 1607.9,626.1 1619.0,633.1 1630.2,640.4 1641.3,634.4 1652.5,635.5 1663.6,626.6 1674.8,626.6 1685.9,638.6 1697.1,640.1 1708.2,632.0 1719.4,651.5 1730.5,651.8 1741.6,661.1 1752.8,667.7 1763.9,684.5 1775.1,704.4 1786.2,688.4 1797.4,673.0 1808.5,679.5 1819.7,679.5 1830.8,679.5 1842.0,681.4 1853.1,688.4 1864.3,677.9 1875.4,683.2 1886.5,680.3 1897.7,686.8 1908.8,682.1 1920.0,677.9 1931.1,681.7 1942.3,673.0 1953.4,674.8 1964.6,681.8 1975.7,675.1 1986.9,658.5 1998.0,658.5 2009.2,679.8 2020.3,683.0 2031.5,695.4 2042.6,681.6 2053.7,692.8 2064.9,708.4 2076.0,704.9 2087.2,704.5 2098.3,699.8 2109.5,708.4 2120.6,695.9 2131.8,688.9 2142.9,692.8 2154.1,699.5 2165.2,690.9 2176.4,699.5 2187.5,699.5 2198.6,704.5 2209.8,696.1 2220.9,720.3 2232.1,715.4 2243.2,704.5 2254.4,695.9 2265.5,674.9 2276.7,678.0 2287.8,681.4 2299.0,672.6 2310.1,672.6 2321.3,672.6 2332.4,678.8 2343.5,690.5 2354.7,687.0 2365.8,686.7 2377.0,682.2 2388.1,662.1 2399.3,663.8 2410.4,670.4 2421.6,670.4 2432.7,667.2 2443.9,661.8 2455.0,661.0 2466.2,640.0 2477.3,638.5 2488.4,638.5 2499.6,649.3 2510.7,622.9 2521.9,644.7 2533.0,658.7 2544.2,648.6 2555.3,645.6 2566.5,658.4 2577.6,647.8 2588.8,654.8 2599.9,665.4 2611.1,658.7 2622.2,679.7 2633.3,679.7 2644.5,686.7 2655.6,699.9 2666.8,699.9 2677.9,708.9 2689.1,720.6 2700.2,720.6 2711.4,718.9 2722.5,718.6 2733.7,706.9 2744.8,711.3 2756.0,706.6 2767.1,704.6 2778.2,697.3 2789.4,681.2 2800.5,679.7 2811.7,681.6 2822.8,677.8 2834.0,670.8 2845.1,668.0 2856.3,665.7 2867.4,661.8 2878.6,645.8 2889.7,642.3"/>
</g>
<g class="leg">
<line x1="909.3" x2="997.6" y1="1477.6" y2="1477.6" stroke="#4472C4"/>
<text class="lg" x="1007.2" y="1488.7" textLength="145.8" lengthAdjust="spacingAndGlyphs">Belgique</text>
<line x1="1206.5" x2="1294.8" y1="1477.6" y2="1477.6" stroke="#ED7D31"/>
<text class="lg" x="1303.4" y="1488.7" textLength="171.2" lengthAdjust="spacingAndGlyphs">Etats-Unis</text>
<line x1="1527.6" x2="1615.6" y1="1477.6" y2="1477.6" stroke="#A5A5A5"/>
<text class="lg" x="1624.0" y="1488.7" textLength="99.3" lengthAdjust="spacingAndGlyphs">Japon</text>
<line x1="1776.4" x2="1864.7" y1="1477.6" y2="1477.6" stroke="#FFC000"/>
<text class="lg" x="1874.6" y="1488.7" textLength="178.2" lengthAdjust="spacingAndGlyphs">Allemagne</text>
</g>
</svg>
</div>
</body></html>
